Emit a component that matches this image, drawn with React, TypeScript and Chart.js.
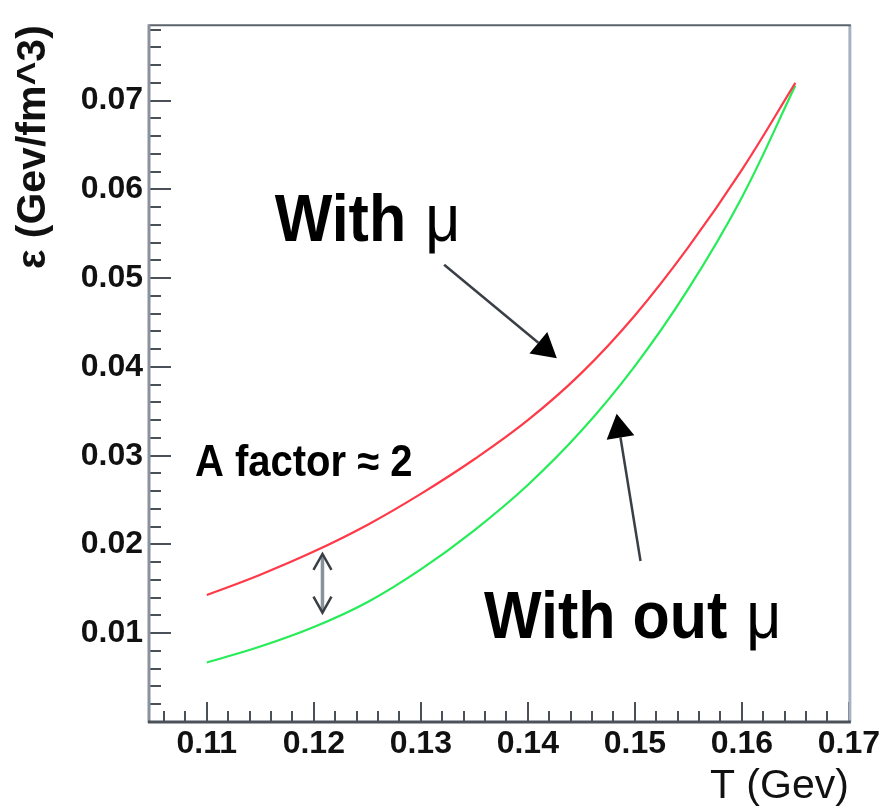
import React, { useEffect, useRef } from "react";
import { Chart, registerables } from "chart.js";

Chart.register(...registerables);

// ---- data ----
const temperatures = [0.11, 0.115, 0.12, 0.125, 0.13, 0.135, 0.14, 0.145, 0.15, 0.155, 0.16, 0.165];
const energyWithMu = [0.0143, 0.0166, 0.0192, 0.0222, 0.0257, 0.0296, 0.034, 0.0393, 0.0458, 0.0535, 0.0622, 0.072];
const energyWithoutMu = [0.0067, 0.0085, 0.0107, 0.0135, 0.0172, 0.0216, 0.0267, 0.0328, 0.0401, 0.0488, 0.0591, 0.0717];

const xTickValues = [0.11, 0.12, 0.13, 0.14, 0.15, 0.16, 0.17];
const yTickValues = [0.01, 0.02, 0.03, 0.04, 0.05, 0.06, 0.07];

const X_MIN = 0.1046;
const X_MAX = 0.17;
const Y_MIN = 0;
const Y_MAX = 0.0785;
const MINOR_STEP = 0.002;

// annotation anchors (data coordinates)
const withMuLabel = { text: "With", symbol: "μ", x: 0.11634, y: 0.0542 };
const withoutMuLabel = { text: "With out", symbol: "μ", x: 0.13591, y: 0.00941 };
const factorLabel = { text: "A factor ≈ 2", x: 0.10889, y: 0.02777 };
const arrowWithMu = { x0: 0.13218, y0: 0.05152, x1: 0.14271, y1: 0.04099 };
const arrowWithoutMu = { x0: 0.15053, y0: 0.01814, x1: 0.1483, y1: 0.03472 };
const doubleArrow = { x: 0.12081, yTop: 0.01893, yBottom: 0.01232 };

const FONT = '"Liberation Sans", Arial, Helvetica, sans-serif';

function drawArrow(ctx: CanvasRenderingContext2D, sx: number, sy: number, tx: number, ty: number) {
  const dx = tx - sx;
  const dy = ty - sy;
  const len = Math.hypot(dx, dy);
  const ux = dx / len;
  const uy = dy / len;
  const headLen = 24;
  const halfW = 14;
  const bx = tx - ux * headLen;
  const by = ty - uy * headLen;
  ctx.strokeStyle = "#3a3f46";
  ctx.lineWidth = 2.5;
  ctx.beginPath();
  ctx.moveTo(sx, sy);
  ctx.lineTo(bx, by);
  ctx.stroke();
  ctx.fillStyle = "#000";
  ctx.beginPath();
  ctx.moveTo(tx, ty);
  ctx.lineTo(bx - uy * halfW, by + ux * halfW);
  ctx.lineTo(bx + uy * halfW, by - ux * halfW);
  ctx.closePath();
  ctx.fill();
}

function drawStretchedText(ctx: CanvasRenderingContext2D, text: string, x: number, y: number, font: string, sy: number) {
  ctx.save();
  ctx.translate(x, y);
  ctx.scale(1, sy);
  ctx.font = font;
  ctx.fillText(text, 0, 0);
  const w = ctx.measureText(text).width;
  ctx.restore();
  return w;
}

const decorPlugin = {
  id: "decor",
  afterDraw(chart: any) {
    const { ctx, chartArea: a, scales } = chart;
    const xs = scales.x;
    const ys = scales.y;
    ctx.save();

    // inward ticks
    ctx.strokeStyle = "#4a5058";
    ctx.lineWidth = 2;
    const kx0 = Math.ceil(X_MIN / MINOR_STEP - 1e-6);
    const kx1 = Math.floor(X_MAX / MINOR_STEP + 1e-6);
    for (let k = kx0; k <= kx1; k++) {
      const v = k * MINOR_STEP;
      const major = k % 5 === 0;
      const px = Math.round(xs.getPixelForValue(v));
      ctx.beginPath();
      ctx.moveTo(px, a.bottom);
      ctx.lineTo(px, a.bottom - (major ? 20 : 11));
      ctx.stroke();
    }
    const ky0 = Math.ceil(Y_MIN / MINOR_STEP - 1e-6);
    const ky1 = Math.floor(Y_MAX / MINOR_STEP + 1e-6);
    for (let k = ky0; k <= ky1; k++) {
      const v = k * MINOR_STEP;
      const major = k % 5 === 0;
      const py = Math.round(ys.getPixelForValue(v));
      ctx.beginPath();
      ctx.moveTo(a.left, py);
      ctx.lineTo(a.left + (major ? 22 : 12), py);
      ctx.stroke();
    }

    // frame
    ctx.lineWidth = 3;
    ctx.strokeStyle = "#a9b2c0";
    ctx.beginPath();
    ctx.moveTo(a.right + 1, a.top);
    ctx.lineTo(a.right + 1, a.bottom);
    ctx.stroke();
    ctx.lineWidth = 2;
    ctx.strokeStyle = "#5c636c";
    ctx.beginPath();
    ctx.moveTo(a.left, a.top);
    ctx.lineTo(a.right + 2, a.top);
    ctx.stroke();
    ctx.lineWidth = 3;
    ctx.strokeStyle = "#8a929c";
    ctx.beginPath();
    ctx.moveTo(a.left, a.top - 1);
    ctx.lineTo(a.left, a.bottom + 1);
    ctx.stroke();
    ctx.strokeStyle = "#4c525a";
    ctx.beginPath();
    ctx.moveTo(a.left - 1, a.bottom);
    ctx.lineTo(a.right + 2, a.bottom);
    ctx.stroke();

    // text annotations
    ctx.fillStyle = "#000";
    ctx.textBaseline = "alphabetic";
    ctx.textAlign = "left";
    const bigBold = `bold 61px ${FONT}`;
    const bigReg = `61px ${FONT}`;
    {
      const x = xs.getPixelForValue(withMuLabel.x);
      const y = ys.getPixelForValue(withMuLabel.y);
      const w = drawStretchedText(ctx, withMuLabel.text + " ", x, y, bigBold, 1.1);
      drawStretchedText(ctx, withMuLabel.symbol, x + w + 2, y, bigReg, 1.1);
    }
    {
      const x = xs.getPixelForValue(withoutMuLabel.x);
      const y = ys.getPixelForValue(withoutMuLabel.y);
      const w = drawStretchedText(ctx, withoutMuLabel.text + " ", x, y, bigBold, 1.1);
      drawStretchedText(ctx, withoutMuLabel.symbol, x + w + 2, y, bigReg, 1.1);
    }
    drawStretchedText(
      ctx,
      factorLabel.text,
      xs.getPixelForValue(factorLabel.x),
      ys.getPixelForValue(factorLabel.y),
      `bold 40px ${FONT}`,
      1.1
    );

    // arrows
    drawArrow(
      ctx,
      xs.getPixelForValue(arrowWithMu.x0),
      ys.getPixelForValue(arrowWithMu.y0),
      xs.getPixelForValue(arrowWithMu.x1),
      ys.getPixelForValue(arrowWithMu.y1)
    );
    drawArrow(
      ctx,
      xs.getPixelForValue(arrowWithoutMu.x0),
      ys.getPixelForValue(arrowWithoutMu.y0),
      xs.getPixelForValue(arrowWithoutMu.x1),
      ys.getPixelForValue(arrowWithoutMu.y1)
    );

    // double-headed arrow
    const dx = xs.getPixelForValue(doubleArrow.x);
    const dt = ys.getPixelForValue(doubleArrow.yTop);
    const db = ys.getPixelForValue(doubleArrow.yBottom);
    ctx.strokeStyle = "#8a929c";
    ctx.lineWidth = 3.5;
    ctx.beginPath();
    ctx.moveTo(dx, dt + 2);
    ctx.lineTo(dx, db - 2);
    ctx.stroke();
    ctx.strokeStyle = "#3a3f46";
    ctx.lineWidth = 2.5;
    ctx.beginPath();
    ctx.moveTo(dx - 9, dt + 16);
    ctx.lineTo(dx, dt);
    ctx.lineTo(dx + 9, dt + 16);
    ctx.moveTo(dx - 9, db - 16);
    ctx.lineTo(dx, db);
    ctx.lineTo(dx + 9, db - 16);
    ctx.stroke();

    ctx.restore();
  },
};

export default function App() {
  const canvasRef = useRef<HTMLCanvasElement | null>(null);

  useEffect(() => {
    const canvas = canvasRef.current;
    if (!canvas) return;
    const chart = new Chart(canvas, {
      type: "line",
      data: {
        datasets: [
          {
            label: "With mu",
            data: temperatures.map((t, i) => ({ x: t, y: energyWithMu[i] })),
            borderColor: "#ff3a48",
            borderWidth: 2.2,
            pointRadius: 0,
            fill: false,
            tension: 0.4,
          },
          {
            label: "Without mu",
            data: temperatures.map((t, i) => ({ x: t, y: energyWithoutMu[i] })),
            borderColor: "#26ec58",
            borderWidth: 2.2,
            pointRadius: 0,
            fill: false,
            tension: 0.4,
          },
        ],
      },
      options: {
        animation: false,
        responsive: false,
        devicePixelRatio: 1,
        layout: { padding: { top: 21, right: 32, left: 0, bottom: 0 } },
        plugins: {
          legend: { display: false },
          tooltip: { enabled: false },
        },
        scales: {
          x: {
            type: "linear",
            min: X_MIN,
            max: X_MAX,
            afterBuildTicks: (s: any) => {
              s.ticks = xTickValues.map((v) => ({ value: v }));
            },
            afterFit: (s: any) => {
              s.height = 90;
            },
            grid: { display: false, drawTicks: false },
            border: { display: false },
            ticks: {
              padding: 3,
              color: "#111",
              maxRotation: 0,
              autoSkip: false,
              font: { family: FONT, size: 32, weight: "bold" },
              callback: (v: any) => Number(v).toFixed(2),
            },
            title: {
              display: true,
              text: "T (Gev)",
              align: "end",
              color: "#111",
              font: { family: FONT, size: 41, weight: "normal", lineHeight: 1 },
              padding: { top: 0, bottom: 5 },
            },
          },
          y: {
            type: "linear",
            min: Y_MIN,
            max: Y_MAX,
            afterBuildTicks: (s: any) => {
              s.ticks = yTickValues.map((v) => ({ value: v }));
            },
            afterFit: (s: any) => {
              s.width = 149;
            },
            grid: { display: false, drawTicks: false },
            border: { display: false },
            ticks: {
              padding: 6,
              color: "#111",
              autoSkip: false,
              font: { family: FONT, size: 32, weight: "bold" },
              callback: (v: any) => Number(v).toFixed(2),
            },
            title: {
              display: true,
              text: "ε (Gev/fm^3)",
              align: "end",
              color: "#111",
              font: { family: FONT, size: 41, weight: "bold", lineHeight: 1 },
              padding: { top: 13, bottom: 0 },
            },
          },
        },
      },
      plugins: [decorPlugin],
    } as any);
    return () => chart.destroy();
  }, []);

  return (
    <div style={{ position: "absolute", left: 0, top: 0, width: 883, height: 812, background: "#fff" }}>
      <canvas ref={canvasRef} width={883} height={812} style={{ width: 883, height: 812, display: "block" }} />
    </div>
  );
}
